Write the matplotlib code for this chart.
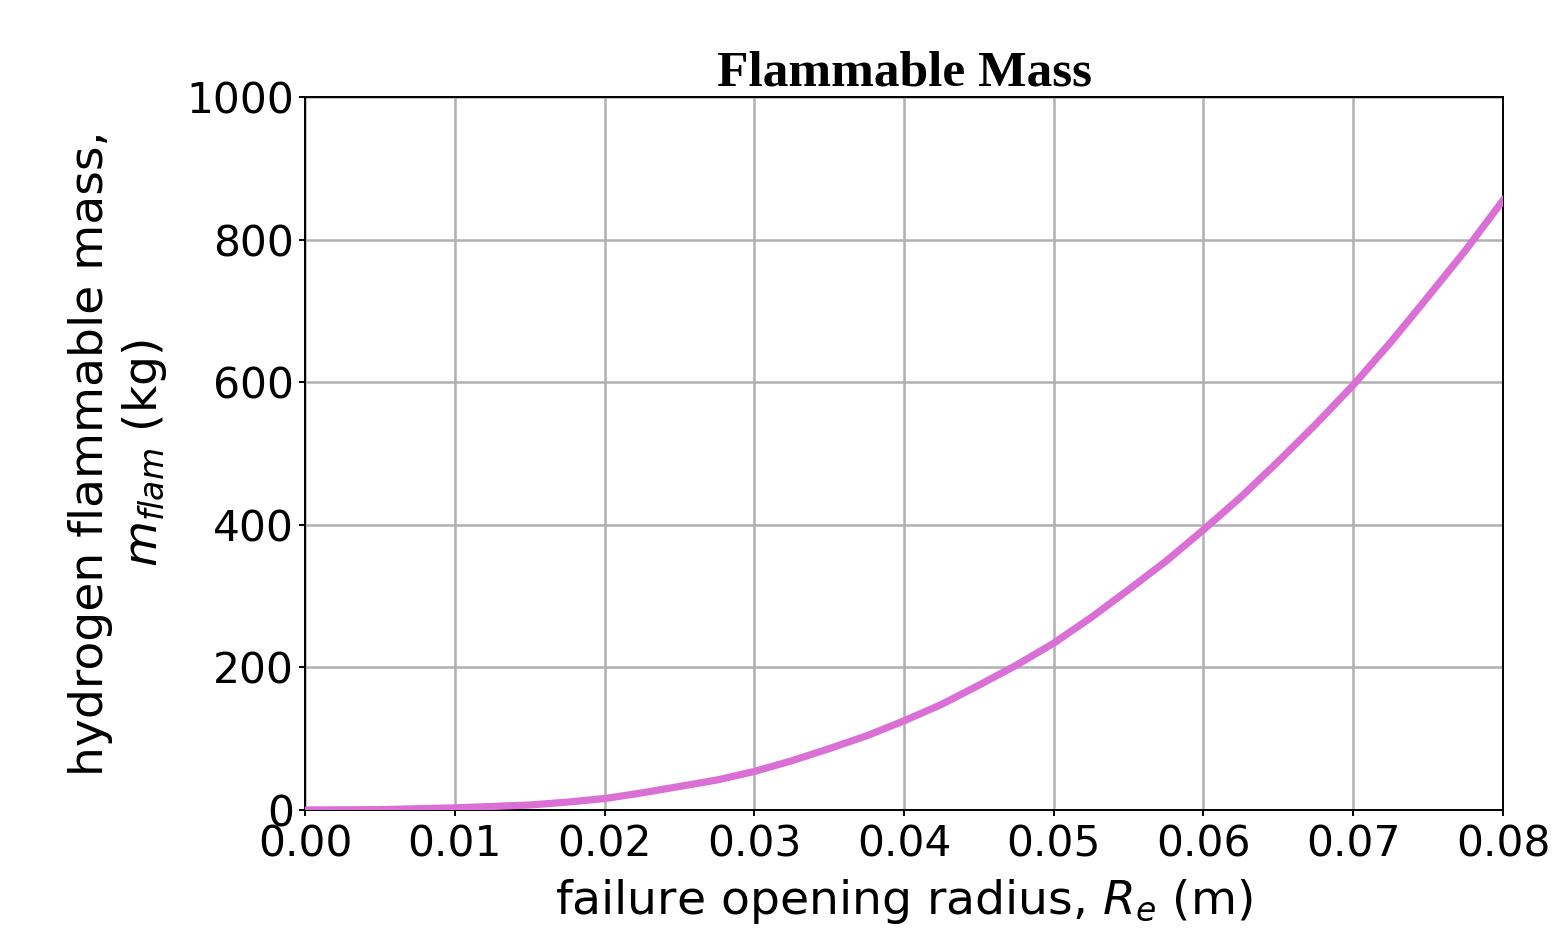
import numpy as np
import matplotlib
matplotlib.use('Agg')
import matplotlib.pyplot as plt

# opening radius (m) and flammable mass (kg)
radius = [0.0, 0.005, 0.01, 0.015, 0.0175, 0.02, 0.0225, 0.025, 0.0275, 0.03,
          0.0325, 0.035, 0.0375, 0.04, 0.0425, 0.045, 0.0475, 0.05,
          0.0525, 0.055, 0.0575, 0.06, 0.0625, 0.065, 0.0675, 0.07,
          0.0725, 0.075, 0.0775, 0.08]
m_flam = [0, 0.5, 3, 7, 11, 16, 24, 33, 42, 54,
          69, 86, 104, 125, 148, 175, 203, 234,
          270, 309, 349, 393, 439, 489, 541, 596,
          656, 720, 785, 855]

x_ticks = [0.00, 0.01, 0.02, 0.03, 0.04, 0.05, 0.06, 0.07, 0.08]
y_ticks = [0, 200, 400, 600, 800, 1000]

fig = plt.figure(figsize=(15.53, 9.35), dpi=100)
ax = fig.add_axes([0.1964, 0.1337, 0.7714, 0.7626])

ax.plot(radius, m_flam, color='orchid', linewidth=5.2, zorder=3)

ax.set_xlim(0, 0.08)
ax.set_ylim(0, 1000)
ax.set_xticks(x_ticks)
ax.set_xticklabels(['%.2f' % t for t in x_ticks])
ax.set_yticks(y_ticks)
ax.grid(True, color='#b0b0b0', linewidth=1.8)
ax.set_axisbelow(True)

ax.tick_params(labelsize=30.5, length=4, width=1.4)
ax.tick_params(axis='x', pad=6)
ax.tick_params(axis='y', pad=4)
for s in ax.spines.values():
    s.set_linewidth(1.4)

ax.set_xlabel('failure opening radius, $R_e$ (m)', fontsize=34, labelpad=8)
ax.set_ylabel('hydrogen flammable mass,\n$m_{flam}$ (kg)', fontsize=34, labelpad=12)
ax.set_title('Flammable Mass', fontsize=37, fontweight='bold',
             family='Liberation Serif', pad=8)

fig.savefig('out.png', dpi=100)
